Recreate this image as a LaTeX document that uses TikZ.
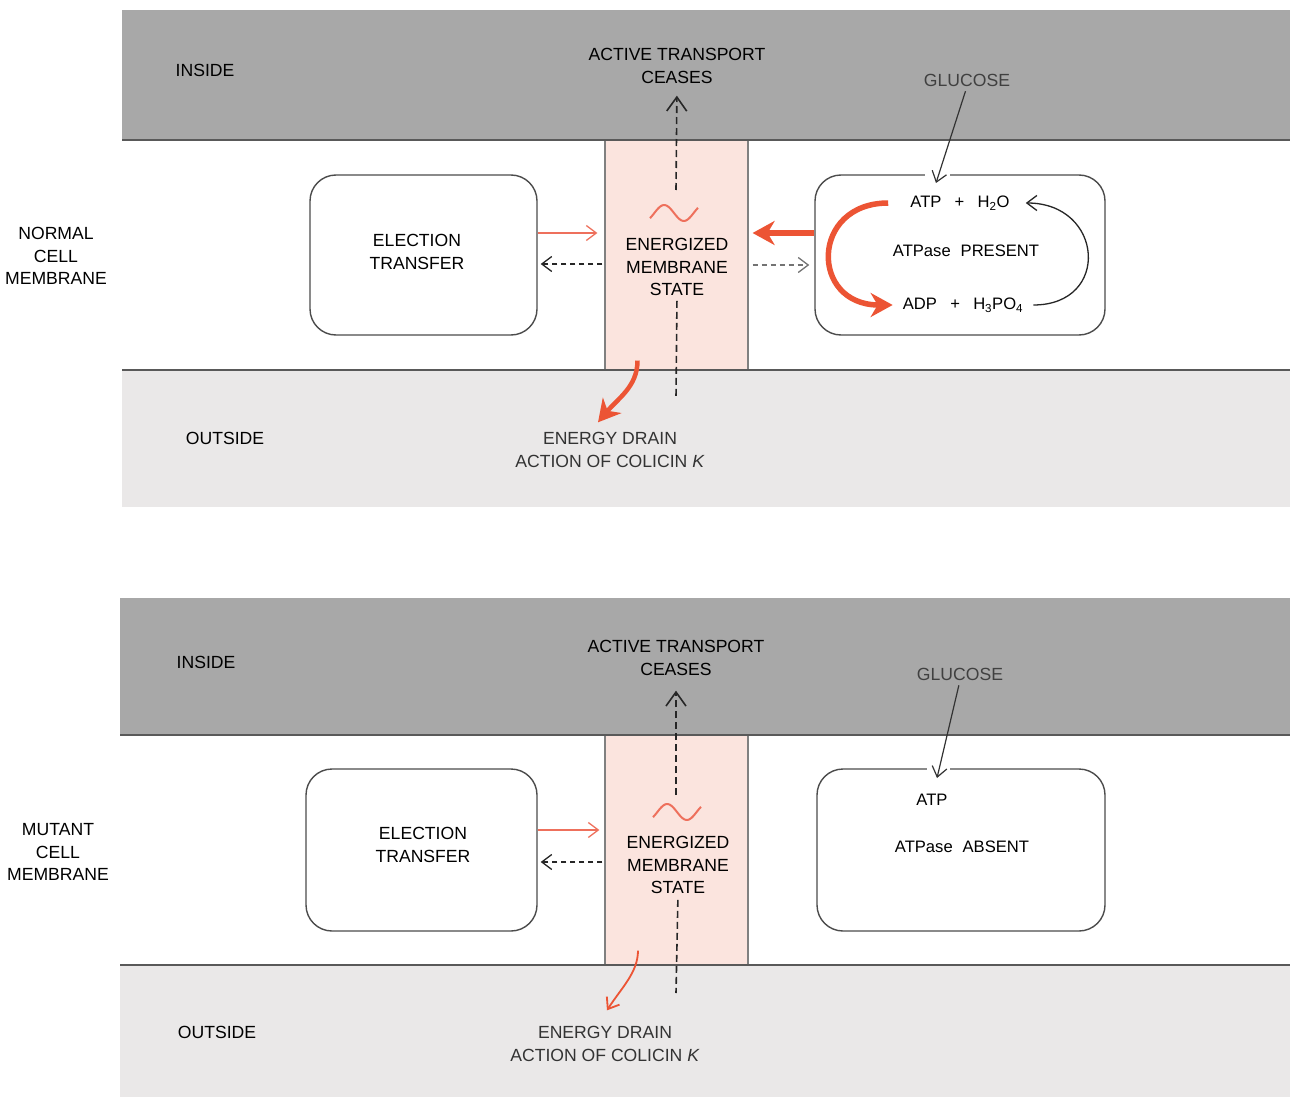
\documentclass[tikz,border=0pt]{standalone}
\usepackage{fontspec}
\setmainfont{Liberation Sans}
\usetikzlibrary{arrows.meta,positioning}

\definecolor{banddark}{RGB}{168,168,168}
\definecolor{bandlight}{RGB}{234,232,232}
\definecolor{mempink}{RGB}{251,228,222}
\definecolor{redthick}{RGB}{236,84,52}
\definecolor{redthin}{RGB}{238,112,92}

\tikzset{
  lbl/.style={font=\fontsize{17.6}{22.5}\selectfont, align=center, inner sep=0pt},
  smlbl/.style={font=\fontsize{16.6}{20}\selectfont, inner sep=0pt},
  procbox/.style={draw=black!70, line width=1.4pt, rounded corners=26pt, fill=white},
  memcol/.style={draw=black!50, line width=1.2pt, fill=mempink,
    minimum width=143pt, minimum height=230pt},
  bandedge/.style={draw=black!65, line width=2pt},
  vdash/.style={draw=black!85, line width=1.6pt, dash pattern=on 7pt off 4pt},
  hdash/.style={draw=black!85, line width=1.3pt, dash pattern=on 5pt off 4pt},
  openmid/.style={-{Straight Barb[length=10pt,width=15pt]}},
  openbig/.style={-{Straight Barb[length=14pt,width=20pt]}},
  fathead/.style={-{Stealth[length=22pt,width=24pt,inset=7pt]}}
}

\begin{document}
\begin{tikzpicture}[x=1pt,y=-1pt]
  \useasboundingbox (0,0) rectangle (1294,1097);

  % normal cell membrane
  \fill[banddark] (122,10) rectangle (1290,140);
  \fill[bandlight] (122,370) rectangle (1290,507);
  \node[memcol] (col1) at (676.5,255) {};
  \draw[bandedge] (122,140) -- (1290,140);
  \draw[bandedge] (122,370) -- (1290,370);
  \node[procbox,minimum width=227pt,minimum height=160pt] (lbox1) at (423.5,255) {};
  \node[procbox,minimum width=290pt,minimum height=160pt] (rbox1) at (960,255) {};

  \node[lbl] (inside1) at (205,70) {INSIDE};
  \node[lbl] (act1) at (677,66) {ACTIVE TRANSPORT\\CEASES};
  \node[lbl,text=black!75] (glu1) at (967,80) {GLUCOSE};
  \node[lbl] (normal) at (56,256) {NORMAL\\CELL\\MEMBRANE};
  \node[lbl] (et1) at (417,252) {ELECTION\\TRANSFER};
  \node[lbl] (ems1) at (677,267) {ENERGIZED\\MEMBRANE\\STATE};
  \node[smlbl] (atp1) at (960,203) {ATP\hspace{0.8em}+\hspace{0.8em}H\textsubscript{2}O};
  \node[smlbl] (pres1) at (966,251) {ATPase\hspace{0.6em}PRESENT};
  \node[smlbl] (adp1) at (963,305) {ADP\hspace{0.8em}+\hspace{0.8em}H\textsubscript{3}PO\textsubscript{4}};
  \node[lbl] (outside1) at (225,438) {OUTSIDE};
  \node[lbl,text=black!80] (drain1) at (610,450) {ENERGY DRAIN\\ACTION OF COLICIN \textit{K}};

  \draw[redthin,line width=2pt] plot[smooth,domain=-40:400,samples=30]
    ({650+(\x+40)/440*48},{213-8*sin(\x)});
  \coordinate (up1) at (676,190);
  \coordinate (dn1) at (676,398);
  \draw[vdash,openbig,shorten >=12pt] (up1) -- (act1.south);
  \draw[vdash,shorten <=5pt] (ems1.south) -- (dn1);

  \draw[redthin,line width=1.3pt,openmid,shorten >=7pt] ([yshift=22pt]lbox1.east) -- ([yshift=22pt]col1.west);
  \draw[hdash,openmid,shorten <=2pt,shorten >=3pt] ([yshift=-9pt]col1.west) -- ([yshift=-9pt]lbox1.east);
  \draw[hdash,draw=black!55,openmid,shorten <=4pt,shorten >=5pt] ([yshift=-10pt]col1.east) -- ([yshift=-10pt]rbox1.west);
  \draw[redthick,line width=6pt,fathead,shorten >=4pt] ([yshift=22pt]rbox1.west) -- ([yshift=22pt]col1.east);

  \draw[redthick,line width=5.5pt,fathead] ([xshift=-22pt]atp1.west)
    .. controls +(-78,0) and +(-83,0) .. ([xshift=-10pt]adp1.west);
  \draw[black!85,line width=1.3pt,openmid] ([xshift=10pt]adp1.east)
    .. controls +(78,0) and +(78,0) .. ([xshift=16pt]atp1.east);

  \fill[white] (925,172) rectangle (950,178);
  \coordinate (gtip1) at (936,183);
  \draw[black!80,line width=1.2pt,openmid,shorten <=5pt] (glu1.south) -- (gtip1);

  \draw[redthick,line width=4.5pt,fathead] ([xshift=-39pt,yshift=10pt]col1.south)
    .. controls +(0,26) and +(20,-24) .. ([xshift=-12pt,yshift=10pt]drain1.north);

  % mutant cell membrane
  \fill[banddark] (120,598) rectangle (1290,735);
  \fill[bandlight] (120,965) rectangle (1290,1097);
  \node[memcol] (col2) at (676.5,850) {};
  \draw[bandedge] (120,735) -- (1290,735);
  \draw[bandedge] (120,965) -- (1290,965);
  \node[procbox,minimum width=231pt,minimum height=162pt] (lbox2) at (421.5,850) {};
  \node[procbox,minimum width=288pt,minimum height=162pt] (rbox2) at (961,850) {};

  \node[lbl] (inside2) at (206,662) {INSIDE};
  \node[lbl] (act2) at (676,658) {ACTIVE TRANSPORT\\CEASES};
  \node[lbl,text=black!75] (glu2) at (960,674) {GLUCOSE};
  \node[lbl] (mutant) at (58,852) {MUTANT\\CELL\\MEMBRANE};
  \node[lbl] (et2) at (423,845) {ELECTION\\TRANSFER};
  \node[lbl] (ems2) at (678,865) {ENERGIZED\\MEMBRANE\\STATE};
  \node[smlbl] (atp2) at (932,800) {ATP};
  \node[smlbl] (abs2) at (962,847) {ATPase\hspace{0.6em}ABSENT};
  \node[lbl] (outside2) at (217,1032) {OUTSIDE};
  \node[lbl,text=black!80] (drain2) at (605,1044) {ENERGY DRAIN\\ACTION OF COLICIN \textit{K}};

  \draw[redthin,line width=2pt] plot[smooth,domain=-40:400,samples=30]
    ({653+(\x+40)/440*48},{812-8*sin(\x)});
  \coordinate (up2) at (676,795);
  \coordinate (dn2) at (676,993);
  \draw[vdash,openbig,shorten >=15pt] (up2) -- (act2.south);
  \draw[vdash,shorten <=6pt] (ems2.south) -- (dn2);

  \draw[redthin,line width=1.3pt,openmid,shorten >=5pt] ([yshift=20pt]lbox2.east) -- ([yshift=20pt]col2.west);
  \draw[hdash,openmid,shorten <=2pt,shorten >=3pt] ([yshift=-12pt]col2.west) -- ([yshift=-12pt]lbox2.east);

  \fill[white] (927,766) rectangle (950,772);
  \coordinate (gtip2) at (937,778);
  \draw[black!80,line width=1.2pt,openmid,shorten <=5pt] (glu2.south) -- (gtip2);

  \draw[redthick,line width=1.8pt,openmid] ([xshift=-38.5pt,yshift=15pt]col2.south)
    .. controls +(0,22) and +(14,-22) .. ([xshift=2pt,yshift=16pt]drain2.north);
\end{tikzpicture}
\end{document}
